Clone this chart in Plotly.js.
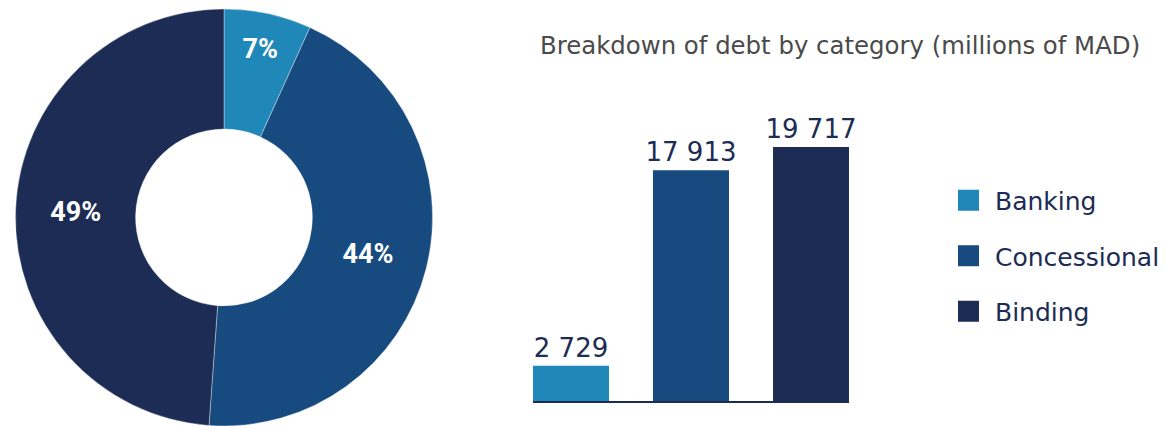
<!DOCTYPE html>
<html><head><meta charset="utf-8">
<script src="https://cdn.plot.ly/plotly-3.0.1.min.js"></script>
<style>html,body{margin:0;padding:0;background:#fff}#chart{width:1166px;height:426px}</style>
</head><body><div id="chart"></div>
<script>
const categories = ['Banking', 'Concessional', 'Binding'];
const debtValues = [2729, 17913, 19717];
const colors = ['#1f88b9', '#174a7e', '#1c2c54'];
const chartTitle = 'Breakdown of debt by category (millions of MAD)';

const navy = '#1c2c54';

const pieTrace = {
  type: 'pie', labels: categories, values: debtValues, hole: 0.424,
  sort: false, direction: 'clockwise', rotation: 0,
  marker: {colors: colors, line: {color: 'rgba(255,255,255,0.6)', width: 0.6}},
  texttemplate: '%{percent:.0%}', textposition: 'inside', insidetextorientation: 'horizontal',
  textfont: {family: 'Roboto', size: 27, color: '#ffffff', weight: 700},
  domain: {x: [15/1166, 433/1166], y: [0, 0.979]},
  showlegend: false, hoverinfo: 'label+value+percent'
};

const barTrace = {
  type: 'bar', x: categories, y: debtValues, marker: {color: colors},
  texttemplate: '%{y:,.0f}', textposition: 'outside', cliponaxis: false, constraintext: 'none',
  textfont: {family: 'DejaVu Sans', size: 26, color: navy},
  showlegend: false, hoverinfo: 'x+y'
};

const legendTraces = categories.map((c, i) => ({
  type: 'scatter', mode: 'markers', x: [null], y: [null], name: c, legendgroup: c,
  marker: {symbol: 'square', size: 16, color: colors[i], line: {color: colors[i], width: 5}},
  hoverinfo: 'skip'
}));

const layout = {
  width: 1166, height: 426,
  margin: {l: 0, r: 0, t: 0, b: 0},
  paper_bgcolor: '#ffffff', plot_bgcolor: '#ffffff',
  separators: '. ',
  bargap: 0.3667,
  title: {text: chartTitle, x: 540/1166, xanchor: 'left', y: 1 - 45/426, yanchor: 'middle',
          font: {family: 'DejaVu Sans', size: 24.4, color: '#4a4a4a'}},
  xaxis: {domain: [533/1166, 849/1166], range: [-0.3167, 2.3167], type: 'category',
          showline: true, linecolor: navy, linewidth: 2, showticklabels: false, ticks: '',
          showgrid: false, zeroline: false, fixedrange: true},
  yaxis: {domain: [25/426, 0.8], range: [0, 24515], visible: false, fixedrange: true},
  showlegend: true,
  legend: {x: 942/1166, xanchor: 'left', y: (426-177.5)/426, yanchor: 'top',
           font: {family: 'DejaVu Sans', size: 25, color: navy},
           itemwidth: 43, tracegroupgap: 20, bgcolor: 'rgba(0,0,0,0)'}
};

Plotly.newPlot('chart', [pieTrace, barTrace, ...legendTraces], layout, {displayModeBar: false});
</script>
</body></html>
